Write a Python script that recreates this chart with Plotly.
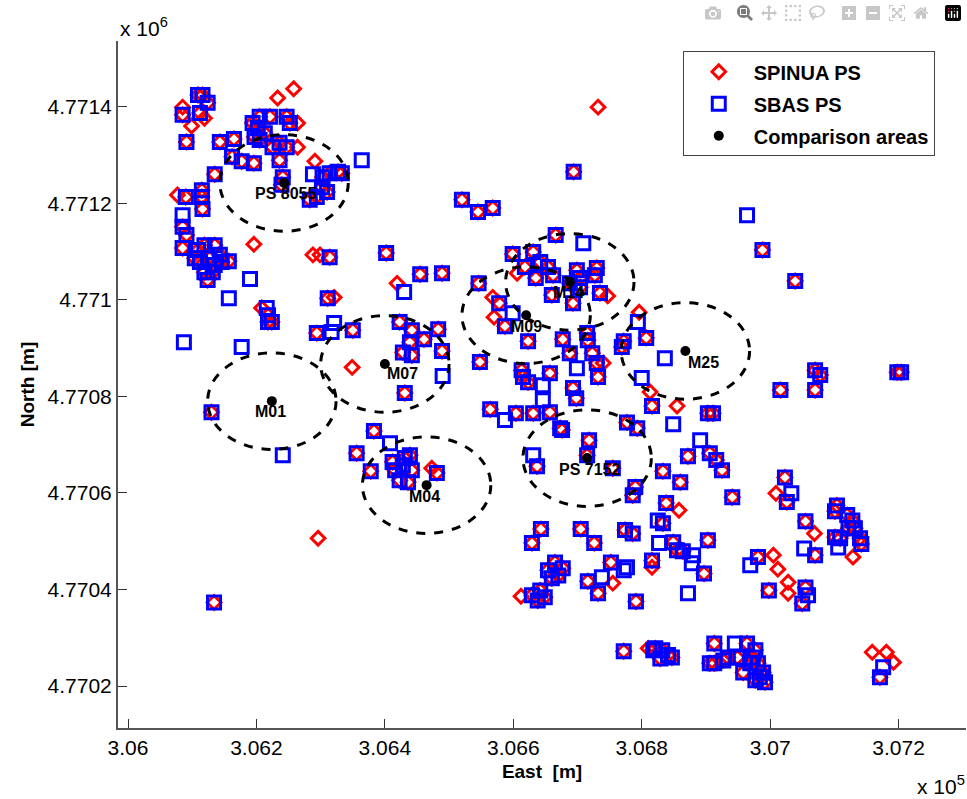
import plotly.graph_objects as go

# All positions in metres, relative to these bases
EAST0 = 306000
NORTH0 = 4770000

both_e = [85,91,112,109,116,124,135,90,115,115,116,85,91,85,109,119,135,112,127,143,119,132,146,124,157,104,135,
          143,165,162,177,196,194,205,213,197,221,247,252,236,247,225,236,241,239,205,202,
          283,303,310,327,314,302,294,333,314,402,218,218,224,311,294,350,130,423,442,461,439,483,428,442,489,431,383,356,378,
          416,431,442,423,436,412,428,439,481,134,
          520,545,568,455,489,666,599,631,618,642,654,635,662,699,704,727,730,660,693,735,704,688,546,578,587,623,548,
          677,688,716,723,730,732,715,657,613,623,615,693,698,772,769,807,816,564,604,631,657,673,676,777,793,903,911,906,916,925,
          1016,1070,1078,1070,1198,1204,637,718,715,755,786,790,833,860,872,941,838,833,849,855,864,897,903,643,629,705,726,774,786,
          654,665,677,670,660,629,642,638,649,752,716,732,816,791,981,998,1055,1050,1023,1026,1055,1070,1104,1101,1120,1128,1132,1122,1140,1142,1101,1109,1171,
          772,818,821,832,841,829,847,913,913,906,927,964,958,984,981,989,949,934,969,977,973,992,977,988,1039,694]
both_n = [1383,1327,1387,1424,1424,1408,1260,1213,1227,1213,1188,1151,1134,1107,1103,1113,1113,1078,1086,1093,1057,1057,1078,1041,1080,1086,1072,
          1327,1333,1296,1287,1283,1366,1379,1345,1337,1379,1379,1366,1325,1316,1316,1289,1254,1238,1331,1356,
          1207,1254,1223,1265,1262,1233,1213,1262,1088,1097,954,968,954,1003,931,937,767,954,937,918,912,939,891,885,894,807,728,682,645,
          647,672,647,626,622,664,657,678,641,373,
          1207,1182,1190,1053,1055,1134,1095,1099,1068,1078,1068,1045,1051,1061,1045,1051,1066,1010,993,1014,1026,1034,1034,993,945,914,871,
          918,889,916,889,869,840,931,848,854,829,840,817,796,914,902,921,780,773,765,765,767,734,730,746,734,765,765,682,668,647,
          813,854,844,813,850,850,655,709,678,651,595,612,645,622,676,591,579,537,498,481,479,433,502,525,496,525,496,523,516,
          440,456,444,429,423,388,398,377,384,456,417,392,460,375,467,398,404,371,632,581,541,471,574,562,554,543,527,527,506,494,508,506,218,
          272,274,278,274,264,257,259,288,247,247,253,288,228,218,247,228,259,259,247,274,259,208,212,1103,1039,1265]

spinua_only_e = [233,258,99,119,291,264,264,85,196,77,288,299,208,321,419,349,473,296,796,747,740,813,855,568,570,606,858,612,755,816,
                 1005,1012,1028,1028,1009,1069,1129,1159,1181,1192,810,732]
spinua_only_n = [1418,1437,1360,1376,1287,1316,1366,1399,1115,1217,1093,1093,983,1005,1034,860,651,506,974,1008,869,809,780,1005,964,1055,564,386,413,446,
                 471,442,415,392,599,516,467,270,270,249,278,1399]

sbas_only_e = [85,288,364,190,157,87,177,241,216,321,317,430,490,408,709,599,699,646,646,794,836,800,849,587,891,631,825,827,880,878,872,
               777,772,738,969,1059,1033,1053,1106,1176,945,964]
sbas_only_n = [1175,1260,1289,1043,1003,912,902,678,983,952,933,1016,842,703,1117,972,858,823,792,954,879,838,742,751,709,678,543,496,471,454,392,
               446,440,425,450,388,599,485,487,239,288,1175]

area_names = ["PS 8055", "M01", "M07", "M04", "M09", "M14", "M25", "PS 7152"]
area_e = [243, 224, 400, 465, 620, 688, 868, 715]
area_n = [1242, 790, 867, 616, 968, 1037, 894, 672]
area_radius = 100
label_dx = [1, -1, 18, -2, 0, -1, 18, 2]
label_dy = [11, 10, 10, 11, 11, 11, 12, 11]

x_ticks = [3.06, 3.062, 3.064, 3.066, 3.068, 3.07, 3.072]
x_labels = ["3.06", "3.062", "3.064", "3.066", "3.068", "3.07", "3.072"]
y_ticks = [4.7702, 4.7704, 4.7706, 4.7708, 4.771, 4.7712, 4.7714]
y_labels = ["4.7702", "4.7704", "4.7706", "4.7708", "4.771", "4.7712", "4.7714"]

FONT = "Liberation Sans"
AXIS = "#555555"

spinua_x = [EAST0 + v for v in both_e + spinua_only_e]
spinua_y = [NORTH0 + v for v in both_n + spinua_only_n]
sbas_x = [EAST0 + v for v in both_e + sbas_only_e]
sbas_y = [NORTH0 + v for v in both_n + sbas_only_n]
area_x = [EAST0 + v for v in area_e]
area_y = [NORTH0 + v for v in area_n]

fig = go.Figure()
fig.add_trace(go.Scatter(x=spinua_x, y=spinua_y, mode="markers", name="SPINUA PS", legendgroup="a",
                         marker=dict(symbol="diamond-open", size=10.5, color="#ff0000", line=dict(width=3, color="#ff0000"))))
fig.add_trace(go.Scatter(x=sbas_x, y=sbas_y, mode="markers", name="SBAS PS", legendgroup="b",
                         marker=dict(symbol="square-open", size=13, color="#0000ff", line=dict(width=3, color="#0000ff"))))
fig.add_trace(go.Scatter(x=area_x, y=area_y, mode="markers", name="Comparison areas", legendgroup="c",
                         marker=dict(symbol="circle", size=10, color="black")))

for cx, cy in zip(area_x, area_y):
    fig.add_shape(type="circle", xref="x", yref="y", layer="above",
                  x0=cx - area_radius, x1=cx + area_radius, y0=cy - area_radius, y1=cy + area_radius,
                  line=dict(color="black", width=3, dash="dash"))

for name, cx, cy, dx, dy in zip(area_names, area_x, area_y, label_dx, label_dy):
    fig.add_annotation(x=cx, y=cy, text=name, showarrow=False, xshift=dx, yshift=-dy,
                       font=dict(family=FONT, size=16, color="black", weight="bold"))

fig.add_annotation(xref="paper", yref="paper", x=0, y=1, xshift=0, yshift=14, xanchor="left", yanchor="middle",
                   text="x 10<sup>6</sup>", showarrow=False, font=dict(family=FONT, size=21, color="black"))
fig.add_annotation(xref="paper", yref="paper", x=1, y=0, xshift=1, yshift=-57, xanchor="right", yanchor="middle",
                   text="x 10<sup>5</sup>", showarrow=False, font=dict(family=FONT, size=21, color="black"))

fig.update_layout(
    width=967, height=799, paper_bgcolor="white", plot_bgcolor="white",
    margin=dict(l=118, r=1, t=41, b=71, pad=0),
    font=dict(family=FONT, color="black"),
    xaxis=dict(range=[305984.4, 307305], tickmode="array",
               tickvals=[v * 1e5 for v in x_ticks], ticktext=x_labels,
               ticks="inside", ticklen=9, tickwidth=1, tickcolor="#333333",
               showgrid=False, zeroline=False, showline=True, linecolor=AXIS, linewidth=2,
               tickfont=dict(size=21, family=FONT),
               title=dict(text="<b>East  [m]</b>", font=dict(size=19, family=FONT), standoff=6)),
    yaxis=dict(range=[4770113, 4771536], tickmode="array",
               tickvals=[v * 1e6 for v in y_ticks], ticktext=y_labels,
               ticks="inside", ticklen=9, tickwidth=1, tickcolor="#333333",
               showgrid=False, zeroline=False, showline=True, linecolor=AXIS, linewidth=2,
               tickfont=dict(size=21, family=FONT),
               title=dict(text="<b>North [m]</b>", font=dict(size=19, family=FONT), standoff=8)),
    legend=dict(x=0.666, y=0.985, xanchor="left", yanchor="top", bgcolor="white",
                bordercolor="#444444", borderwidth=1, itemwidth=60, tracegroupgap=3,
                traceorder="grouped",
                font=dict(family=FONT, size=20, color="black", weight="bold")),
)

fig.write_html("out.html", post_script="document.body.style.margin='0';")
